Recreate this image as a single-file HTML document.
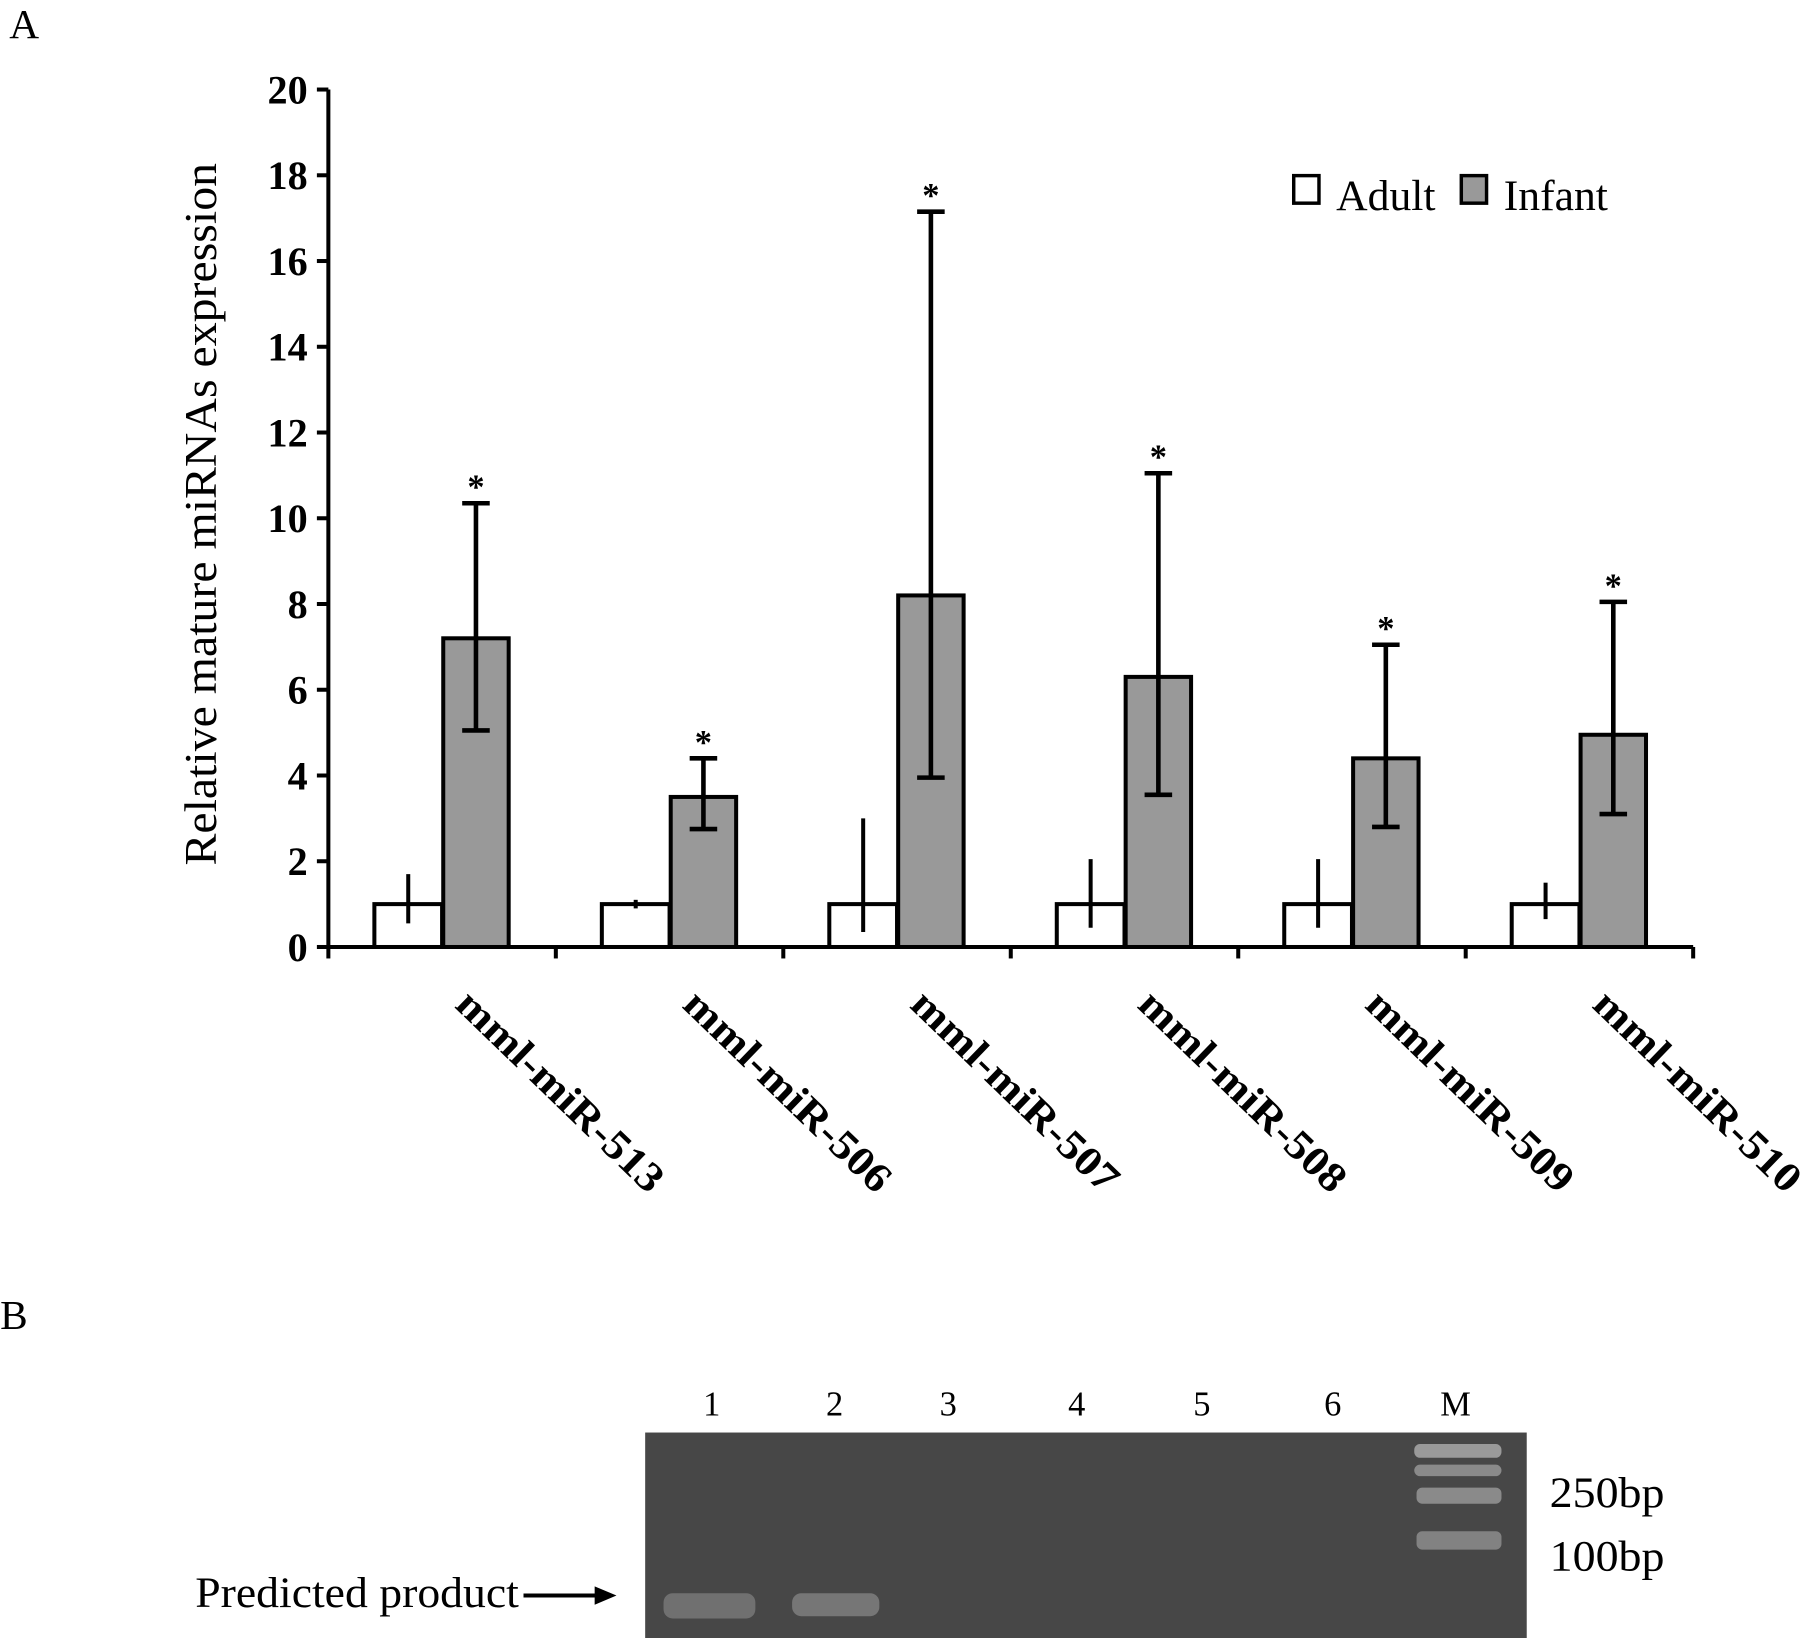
<!DOCTYPE html>
<html><head><meta charset="utf-8"><style>
html,body{margin:0;padding:0;background:#fff;}
svg{display:block;font-family:"Liberation Serif",serif;}
</style></head><body>
<svg id="fig" width="1800" height="1638" viewBox="0 0 1568 1427" xmlns="http://www.w3.org/2000/svg">
<text x="8" y="33" font-size="36">A</text>
<text x="0" y="1158" font-size="36">B</text>
<g id="chart"></g>
<g>
<rect x="1127" y="153" width="22" height="24" fill="#fff" stroke="#000" stroke-width="3"/>
<text x="1164" y="183" font-size="38">Adult</text>
<rect x="1273" y="153" width="22" height="24" fill="#999" stroke="#000" stroke-width="3"/>
<text x="1310" y="183" font-size="38">Infant</text>
</g>
<text transform="translate(188,448) rotate(-90)" text-anchor="middle" font-size="40" textLength="612" lengthAdjust="spacingAndGlyphs">Relative mature miRNAs expression</text>
<g>
<rect x="562" y="1248" width="768" height="179" fill="#474747"/>
<rect x="578" y="1388" width="80" height="22" fill="#707070" rx="8"/>
<rect x="690" y="1388" width="76" height="20" fill="#767676" rx="8"/>
<rect x="1232" y="1258" width="76" height="12" fill="#9a9a9a" rx="5"/>
<rect x="1232" y="1276" width="76" height="10" fill="#8a8a8a" rx="5"/>
<rect x="1234" y="1296" width="74" height="14" fill="#8a8a8a" rx="5"/>
<rect x="1234" y="1334" width="74" height="16" fill="#828282" rx="5"/>
<g font-size="30" text-anchor="middle">
<text x="620" y="1233">1</text><text x="727" y="1233">2</text><text x="826" y="1233">3</text><text x="938" y="1233">4</text><text x="1047" y="1233">5</text><text x="1161" y="1233">6</text><text x="1268" y="1233">M</text>
</g>
<text x="1350" y="1313" font-size="38" textLength="100" lengthAdjust="spacingAndGlyphs">250bp</text>
<text x="1350" y="1368" font-size="38" textLength="100" lengthAdjust="spacingAndGlyphs">100bp</text>
<text x="170" y="1400" font-size="38" textLength="282" lengthAdjust="spacingAndGlyphs">Predicted product</text>
<line x1="456" y1="1390" x2="522" y2="1390" stroke="#000" stroke-width="3.5"/>
<polygon points="518,1382 537,1390 518,1398" fill="#000"/>
</g>
</svg>
<script>
const categories = ["mml-miR-513","mml-miR-506","mml-miR-507","mml-miR-508","mml-miR-509","mml-miR-510"];
const adultValues = [1,1,1,1,1,1];
const adultLow = [0.55,0.9,0.35,0.45,0.45,0.65];
const adultHigh = [1.7,1.1,3.0,2.05,2.05,1.5];
const infantValues = [7.2,3.5,8.2,6.3,4.4,4.95];
const infantLow = [5.05,2.75,3.95,3.55,2.8,3.1];
const infantHigh = [10.35,4.4,17.15,11.05,7.05,8.05];
const yTicks = [0,2,4,6,8,10,12,14,16,18,20];

const NS="http://www.w3.org/2000/svg";
const g=document.getElementById('chart');
const X0=286,X1=1475,Y0=825,Y1=78;
const yMax=20;
const y=v=>Y0-(v/yMax)*(Y0-Y1);
const gw=(X1-X0)/categories.length;
const gx=i=>X0+i*gw;
function el(t,a){const e=document.createElementNS(NS,t);for(const k in a)e.setAttribute(k,a[k]);g.appendChild(e);return e;}
let e;
e=el('line',{x1:X0,y1:Y1,x2:X0,y2:Y0,stroke:'#000','stroke-width':3.5});


e=el('line',{x1:X0,y1:Y0,x2:X1,y2:Y0,stroke:'#000','stroke-width':3.5});


yTicks.forEach(t=>{
  e=el('line',{x1:X0-10,y1:y(t),x2:X0,y2:y(t),stroke:'#000','stroke-width':3.5});
  
  
  e=el('text',{x:X0-18,y:y(t)+12,'text-anchor':'end','font-size':35,'font-weight':'bold'});
  e.textContent=t;
  
  
});
for(let i=0;i<=categories.length;i++){
  e=el('line',{x1:gx(i),y1:Y0,x2:gx(i),y2:Y0+10,stroke:'#000','stroke-width':3.5});
  
  
}
const bw=59;
categories.forEach((c,i)=>{
  const cx=gx(i)+gw/2;
  const ax=cx-bw, ix=cx+1;
  e=el('rect',{x:ax,y:y(adultValues[i]),width:bw,height:Y0-y(adultValues[i]),fill:'#fff',stroke:'#000','stroke-width':3.5});
  
  
  e=el('line',{x1:ax+bw/2,y1:y(adultLow[i]),x2:ax+bw/2,y2:y(adultHigh[i]),stroke:'#000','stroke-width':3.5});
  
  
  e=el('rect',{x:ix,y:y(infantValues[i]),width:bw-2,height:Y0-y(infantValues[i]),fill:'#999',stroke:'#000','stroke-width':3.5});
  
  
  const ex=ix+(bw-2)/2;
  e=el('path',{d:`M${ex},${y(infantLow[i])}V${y(infantHigh[i])}M${ex-12},${y(infantHigh[i])}H${ex+12}M${ex-12},${y(infantLow[i])}H${ex+12}`,stroke:'#000','stroke-width':4,fill:'none'});
  
  
  e=el('text',{x:ex,y:y(infantHigh[i])-4,'text-anchor':'middle','font-size':30,'font-weight':'bold'});
  e.textContent='*';
  
  
  e=el('text',{transform:`translate(${cx+10},${Y0+52}) rotate(44)`,'font-size':36,'font-weight':'bold',textLength:236,lengthAdjust:'spacingAndGlyphs'});
  e.textContent=c;
  
  
});
</script>
</body></html>
